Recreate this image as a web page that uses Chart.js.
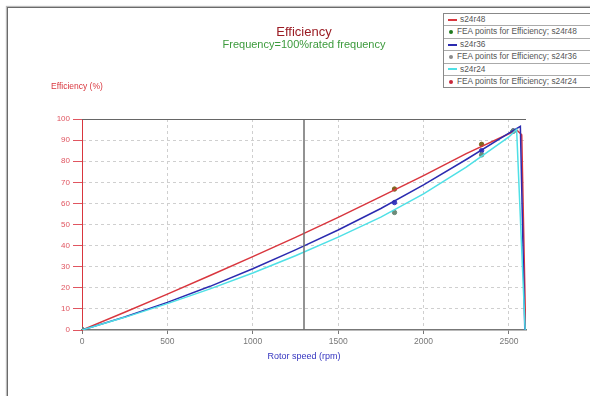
<!DOCTYPE html>
<html>
<head>
<meta charset="utf-8">
<script src="https://cdn.jsdelivr.net/npm/chart.js@4.4.0/dist/chart.umd.min.js"></script>
<style>
  body { margin: 0; background: #fff; font-family: "Liberation Sans", Arial, sans-serif; }
  #wrap { position: relative; width: 590px; height: 396px; overflow: hidden; }
  #frame { position: absolute; left: 7px; top: 7px; width: 700px; height: 500px; border: 1px solid #6a6a6a; box-shadow: -1px -1px 1px #bbb; }
  #chart { position: absolute; left: 0; top: 0; }
  #legend { position: absolute; left: 443px; top: 13px; width: 160px; border: 1px solid #888; background: #fff; }
  .row { height: 11.4px; line-height: 11.4px; border-bottom: 1px solid #aaa; font-size: 8.3px; color: #555; padding-left: 4px; white-space: nowrap; }
  .row:last-child { border-bottom: none; }
  .sw { display: inline-block; vertical-align: middle; margin-right: 3px; }
</style>
</head>
<body>
<div id="wrap">
  <div id="frame"></div>
  <canvas id="chart" width="590" height="396"></canvas>
  <div id="legend"></div>
</div>
<script>
// rotor speed (rpm) / efficiency (%)
const speed48 = [0, 250, 500, 750, 1000, 1250, 1500, 1750, 2000, 2250, 2500, 2545, 2575, 2598];
const eff48 = [0, 8.4, 17, 25.8, 34.8, 43.9, 53.4, 63.2, 73.2, 83.6, 93, 94.8, 92.5, 0];
const speed36 = [0, 250, 500, 750, 1000, 1250, 1500, 1750, 2000, 2250, 2500, 2567, 2593];
const eff36 = [0, 6.2, 13.1, 20.7, 29, 38, 47.4, 57.6, 68.8, 80.8, 93.3, 96.5, 0];
const speed24 = [0, 250, 500, 750, 1000, 1250, 1500, 1750, 2000, 2250, 2500, 2545, 2595];
const eff24 = [0, 6, 12.5, 19.5, 27, 35.2, 44, 53.5, 64.5, 77.2, 91.5, 95, 0];

const feaSpeed = [0, 1830, 2340, 2525];
const fea48 = [0, 66.8, 88, 94.3];
const fea36 = [0, 60.4, 85, 94.3];
const fea24 = [0, 55.7, 83, 94.3];

const ratedSpeed = 1300;
const xTicks = [0, 500, 1000, 1500, 2000, 2500];
const yTicks = [0, 10, 20, 30, 40, 50, 60, 70, 80, 90, 100];

function pts(xs, ys) {
  return xs.map((x, i) => ({ x: x, y: ys[i] }));
}

const FONT = "Liberation Sans";

const legendItems = [
  { text: "s24r48", kind: "line", color: "#d9363e" },
  { text: "FEA points for Efficiency; s24r48", kind: "dot", color: "#1f7a1f" },
  { text: "s24r36", kind: "line", color: "#2b2bb0" },
  { text: "FEA points for Efficiency; s24r36", kind: "dot", color: "#8a8a8a" },
  { text: "s24r24", kind: "line", color: "#4fe0e6" },
  { text: "FEA points for Efficiency; s24r24", kind: "dot", color: "#c8283a" },
];

const legend = document.getElementById("legend");
legendItems.forEach((it) => {
  const row = document.createElement("div");
  row.className = "row";
  const sw = document.createElement("span");
  sw.className = "sw";
  if (it.kind === "line") {
    sw.style.width = "9px";
    sw.style.height = "2px";
    sw.style.background = it.color;
  } else {
    sw.style.width = "4px";
    sw.style.height = "4px";
    sw.style.borderRadius = "50%";
    sw.style.background = it.color;
    sw.style.margin = "0 4px 0 1px";
  }
  row.appendChild(sw);
  row.appendChild(document.createTextNode(it.text));
  legend.appendChild(row);
});

const textPlugin = {
  id: "textPlugin",
  afterDraw(chart) {
    const ctx = chart.ctx;
    const a = chart.chartArea;
    ctx.save();
    // top frame of the plot
    ctx.strokeStyle = "#666";
    ctx.lineWidth = 1;
    ctx.beginPath();
    ctx.moveTo(a.left, a.top + 0.5);
    ctx.lineTo(a.right, a.top + 0.5);
    ctx.stroke();

    ctx.textAlign = "center";
    ctx.textBaseline = "middle";
    const cx = (a.left + a.right) / 2;
    ctx.fillStyle = "#9b1c24";
    ctx.font = "13px " + FONT;
    ctx.fillText("Efficiency", cx, 32);
    ctx.fillStyle = "#3c9a3c";
    ctx.font = "11px " + FONT;
    ctx.fillText("Frequency=100%rated frequency", cx, 45);

    ctx.textAlign = "left";
    ctx.fillStyle = "#d9363e";
    ctx.font = "8.5px " + FONT;
    ctx.fillText("Efficiency (%)", 51, 87);
    ctx.restore();
  },
};

new Chart(document.getElementById("chart"), {
  type: "line",
  data: {
    datasets: [
      {
        label: "rated",
        data: [{ x: ratedSpeed, y: 0 }, { x: ratedSpeed, y: 100 }],
        borderColor: "#6e6e6e",
        borderWidth: 1.5,
        pointRadius: 0,
      },
      {
        label: "s24r24",
        data: pts(speed24, eff24),
        borderColor: "#4fe0e6",
        borderWidth: 1.5,
        pointRadius: 0,
      },
      {
        label: "s24r36",
        data: pts(speed36, eff36),
        borderColor: "#2b2bb0",
        borderWidth: 1.5,
        pointRadius: 0,
      },
      {
        label: "s24r48",
        data: pts(speed48, eff48),
        borderColor: "#d9363e",
        borderWidth: 1.5,
        pointRadius: 0,
      },
      {
        label: "FEA points for Efficiency; s24r24",
        data: pts(feaSpeed, fea24),
        showLine: false,
        pointRadius: 2.2,
        pointBackgroundColor: "#6d8a78",
        pointBorderColor: "#6d8a78",
      },
      {
        label: "FEA points for Efficiency; s24r36",
        data: pts(feaSpeed, fea36),
        showLine: false,
        pointRadius: 2.2,
        pointBackgroundColor: "#3a3ac0",
        pointBorderColor: "#3a3ac0",
      },
      {
        label: "FEA points for Efficiency; s24r48",
        data: pts(feaSpeed, fea48),
        showLine: false,
        pointRadius: 2.2,
        pointBackgroundColor: "#7f6620",
        pointBorderColor: "#7f6620",
      },
      {
        label: "origin",
        data: [{ x: 0, y: 0 }],
        showLine: false,
        pointRadius: 2.5,
        pointBackgroundColor: "#1f5a1f",
        pointBorderColor: "#1f5a1f",
      },
    ],
  },
  options: {
    responsive: false,
    animation: false,
    layout: { padding: { left: 0, right: 64, top: 119, bottom: 34 } },
    plugins: {
      legend: { display: false },
      tooltip: { enabled: false },
    },
    scales: {
      x: {
        type: "linear",
        min: 0,
        max: 2600,
        afterBuildTicks: (s) => { s.ticks = xTicks.map((v) => ({ value: v })); },
        afterFit: (s) => { s.height = 32; },
        grid: {
          color: (c) => (c.tick && c.tick.value === 0 ? "rgba(0,0,0,0)" : "#cfcfcf"),
          tickColor: "#777",
          tickLength: 4,
        },
        border: { color: "#777", width: 1.5, dash: [3, 3] },
        ticks: {
          color: "#777",
          font: { family: FONT, size: 8.5 },
          padding: 3,
          maxRotation: 0,
          callback: (v) => String(v),
        },
        title: {
          display: true,
          text: "Rotor speed (rpm)",
          color: "#3434c0",
          font: { family: FONT, size: 9 },
          padding: { top: 4, bottom: 0 },
        },
      },
      y: {
        min: 0,
        max: 100,
        afterBuildTicks: (s) => { s.ticks = yTicks.map((v) => ({ value: v })); },
        afterFit: (s) => { s.width = 82; },
        border: { color: "#d9363e", width: 1, dash: [3, 3] },
        grid: {
          color: (c) => (c.tick && (c.tick.value === 0 || c.tick.value === 100) ? "rgba(0,0,0,0)" : "#cfcfcf"),
          tickColor: "#e05560",
          tickLength: 9,
        },
        ticks: { color: "#e05560", font: { family: FONT, size: 8 }, padding: 3 },
      },
    },
  },
  plugins: [textPlugin],
});
</script>
</body>
</html>
